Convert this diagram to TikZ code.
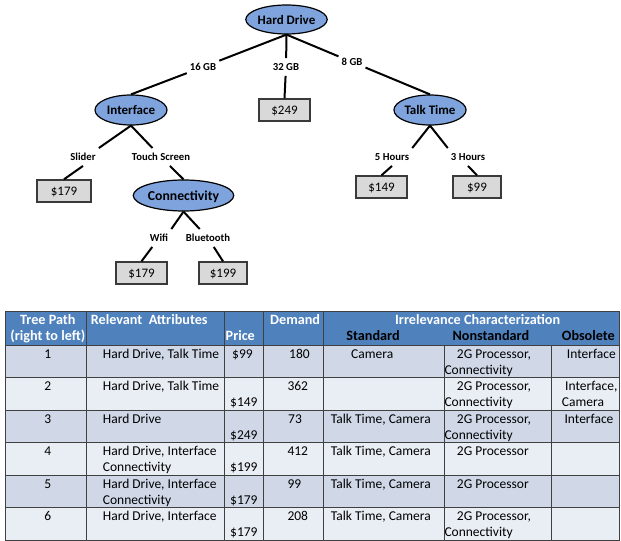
\documentclass[tikz,border=0pt]{standalone}
\usepackage{fontspec}
\setmainfont{Carlito}
\usetikzlibrary{shapes.geometric}

\definecolor{nodeblue}{HTML}{7EA3DD}
\definecolor{boxgray}{HTML}{D9D9D9}
\definecolor{boxline}{HTML}{3A3A3A}
\definecolor{hdrblue}{HTML}{4F81BD}
\definecolor{rowdark}{HTML}{D0D8E8}
\definecolor{rowlight}{HTML}{E9EDF4}
\definecolor{gridline}{HTML}{404040}

\newcommand\treeattrfont{\bfseries\fontsize{13bp}{15bp}\selectfont}
\newcommand\treeleaffont{\fontsize{13bp}{15bp}\selectfont}
\newcommand\treeedgefont{\bfseries\fontsize{10.7bp}{12bp}\selectfont}
\newcommand\tabcellfont{\fontsize{13.5bp}{15bp}\selectfont}
\newcommand\tabheadfont{\bfseries\fontsize{14.2bp}{16bp}\selectfont}

\begin{document}
\begin{tikzpicture}[x=1bp,y=-1bp,
  attr/.style={ellipse, draw=black, line width=1.2bp, fill=nodeblue, inner sep=0pt,
    text height=9.5bp, text depth=0pt, font=\treeattrfont},
  leaf/.style={rectangle, draw=boxline, line width=1.4bp, fill=boxgray, inner sep=0pt,
    minimum height=22bp, text height=9bp, text depth=0pt, font=\treeleaffont},
  elab/.style={inner xsep=3bp, inner ysep=5bp, text height=7.5bp, text depth=0pt, font=\treeedgefont},
  branch/.style={line width=2bp, black},
  grid/.style={draw=gridline, line width=1bp},
  cell/.style={anchor=base west, inner sep=0pt, font=\tabcellfont},
  cellc/.style={anchor=base, inner sep=0pt, font=\tabcellfont},
  hcell/.style={anchor=base west, inner sep=0pt, font=\tabheadfont, text=white},
  hcellc/.style={anchor=base, inner sep=0pt, font=\tabheadfont, text=white},
  hsub/.style={anchor=base west, inner sep=0pt, font=\tabheadfont, text=black},
  hsubc/.style={anchor=base, inner sep=0pt, font=\tabheadfont, text=black}]
\useasboundingbox (0,0) rectangle (621,541);

% ---------- decision tree ----------
\node[attr, minimum width=73bp, minimum height=29bp] (hd) at (286.5,19.5) {Hard Drive};
\node[attr, minimum width=72bp, minimum height=30bp] (int) at (131,110) {Interface};
\node[attr, minimum width=69bp, minimum height=30bp] (tt) at (430,110) {Talk Time};
\node[attr, minimum width=77bp, minimum height=31bp, font=\bfseries\fontsize{13.7bp}{15bp}\selectfont] (con) at (183.5,195.5) {Connectivity};

\node[leaf, minimum width=51bp] (p249) at (284.5,110) {\$249};
\node[leaf, minimum width=54bp] (p179a) at (64,191) {\$179};
\node[leaf, minimum width=51bp] (p179b) at (141.5,273) {\$179};
\node[leaf, minimum width=48bp] (p199) at (223,273) {\$199};
\node[leaf, minimum width=51bp] (p149) at (381.5,187) {\$149};
\node[leaf, minimum width=48bp] (p99) at (477,187) {\$99};

\node[elab] (l16) at (203,67) {16 GB};
\node[elab] (l32) at (286,67) {32 GB};
\node[elab] (l8) at (352,62) {8 GB};
\node[elab] (lsl) at (83,157) {Slider};
\node[elab] (lts) at (161,157) {Touch Screen};
\node[elab] (lwf) at (159,238) {Wifi};
\node[elab] (lbt) at (208,238) {Bluetooth};
\node[elab] (l5h) at (392,157) {5 Hours};
\node[elab] (l3h) at (468,157) {3 Hours};

\draw[branch] (hd.south) -- (l16);  \draw[branch] (l16) -- (int.north);
\draw[branch] (hd.south) -- (l32);  \draw[branch] (l32) -- (p249.north);
\draw[branch] (hd.south) -- (l8);   \draw[branch] (l8) -- (tt.north);
\draw[branch] (int.south) -- (lsl.north east); \draw[branch] (lsl.south) -- (p179a.north);
\draw[branch] (int.south) -- (lts);  \draw[branch] (lts) -- (con.north);
\draw[branch] (con.south) -- (lwf.north east); \draw[branch] (lwf) -- (p179b.north);
\draw[branch] (con.south) -- (lbt);  \draw[branch] (lbt) -- (p199.north);
\draw[branch] (tt.south) -- (l5h.north east); \draw[branch] (l5h.south) -- (p149.north);
\draw[branch] (tt.south) -- (l3h.north west); \draw[branch] (l3h.south) -- (p99.north);

% ---------- table ----------
\fill[hdrblue] (5,311) rectangle (619.5,345);
\fill[rowdark]  (5,345)   rectangle (619.5,377.5);
\fill[rowlight] (5,377.5) rectangle (619.5,410);
\fill[rowdark]  (5,410)   rectangle (619.5,442.5);
\fill[rowlight] (5,442.5) rectangle (619.5,475);
\fill[rowdark]  (5,475)   rectangle (619.5,507.5);
\fill[rowlight] (5,507.5) rectangle (619.5,540);

\draw[grid] (5,311) rectangle (619.5,540);
\foreach \yy in {345,377.5,410,442.5,475,507.5}
  \draw[grid] (5,\yy) -- (619.5,\yy);
\foreach \xx in {86.7,224.5,263.3,323.3}
  \draw[grid] (\xx,311) -- (\xx,540);
\foreach \xx in {444,551.7}
  \draw[grid] (\xx,345) -- (\xx,540);

% header
\node[hcellc] (h1a) at (47.8,324.5) {Tree Path};
\node[hcellc] (h1b) at (47.8,340.5) {(right to left)};
\node[hcell] (h2) at (90.7,324.5) {Relevant~~Attributes};
\node[hcell] (h3) at (225.5,340.5) {Price};
\node[hcell] (h4) at (270,324.5) {Demand};
\node[hcell] (h5) at (395,324.5) {Irrelevance Characterization};
\node[hsubc] (h5a) at (373,340.5) {Standard};
\node[hsub] (h5b) at (452.3,340.5) {Nonstandard};
\node[hsub] (h5c) at (561.7,340.5) {Obsolete};

% row 1 (top 345)
\node[cellc] (r1a) at (47.8,358.3) {1};
\node[cell] (r1b) at (102.7,358.3) {Hard Drive, Talk Time};
\node[cell] (r1c) at (232,358.3) {\$99};
\node[cell] (r1d) at (289,358.3) {180};
\node[cell] (r1e) at (351,358.3) {Camera};
\node[cell] (r1f) at (456.7,358.3) {2G Processor,};
\node[cell] (r1g) at (444.3,374) {Connectivity};
\node[cell] (r1h) at (566.7,358.3) {Interface};

% row 2 (top 377.5)
\node[cellc] (r2a) at (47.8,390.8) {2};
\node[cell] (r2b) at (102.7,390.8) {Hard Drive, Talk Time};
\node[cell] (r2c) at (230,406.5) {\$149};
\node[cell] (r2d) at (287.3,390.8) {362};
\node[cell] (r2f) at (456.7,390.8) {2G Processor,};
\node[cell] (r2g) at (444.3,406.5) {Connectivity};
\node[cell] (r2h) at (565,390.8) {Interface,};
\node[cell] (r2i) at (561.7,406.5) {Camera};

% row 3 (top 410)
\node[cellc] (r3a) at (47.8,423.3) {3};
\node[cell] (r3b) at (102.7,423.3) {Hard Drive};
\node[cell] (r3c) at (230,439) {\$249};
\node[cell] (r3d) at (288,423.3) {73};
\node[cell] (r3e) at (330.7,423.3) {Talk Time, Camera};
\node[cell] (r3f) at (456.7,423.3) {2G Processor,};
\node[cell] (r3g) at (444.3,439) {Connectivity};
\node[cell] (r3h) at (564.3,423.3) {Interface};

% row 4 (top 442.5)
\node[cellc] (r4a) at (47.8,455.8) {4};
\node[cell] (r4b) at (102.7,455.8) {Hard Drive, Interface};
\node[cell] (r4c) at (102.7,471.5) {Connectivity};
\node[cell] (r4d) at (230,471.5) {\$199};
\node[cell] (r4e) at (287.3,455.8) {412};
\node[cell] (r4f) at (330.7,455.8) {Talk Time, Camera};
\node[cell] (r4g) at (456.7,455.8) {2G Processor};

% row 5 (top 475)
\node[cellc] (r5a) at (47.8,488.3) {5};
\node[cell] (r5b) at (102.7,488.3) {Hard Drive, Interface};
\node[cell] (r5c) at (102.7,504) {Connectivity};
\node[cell] (r5d) at (230,504) {\$179};
\node[cell] (r5e) at (287.3,488.3) {99};
\node[cell] (r5f) at (330.7,488.3) {Talk Time, Camera};
\node[cell] (r5g) at (456.7,488.3) {2G Processor};

% row 6 (top 507.5)
\node[cellc] (r6a) at (47.8,520.8) {6};
\node[cell] (r6b) at (102.7,520.8) {Hard Drive, Interface};
\node[cell] (r6c) at (230,536.5) {\$179};
\node[cell] (r6d) at (287.3,520.8) {208};
\node[cell] (r6e) at (330.7,520.8) {Talk Time, Camera};
\node[cell] (r6f) at (456.7,520.8) {2G Processor,};
\node[cell] (r6g) at (444.3,536.5) {Connectivity};
\end{tikzpicture}
\end{document}
